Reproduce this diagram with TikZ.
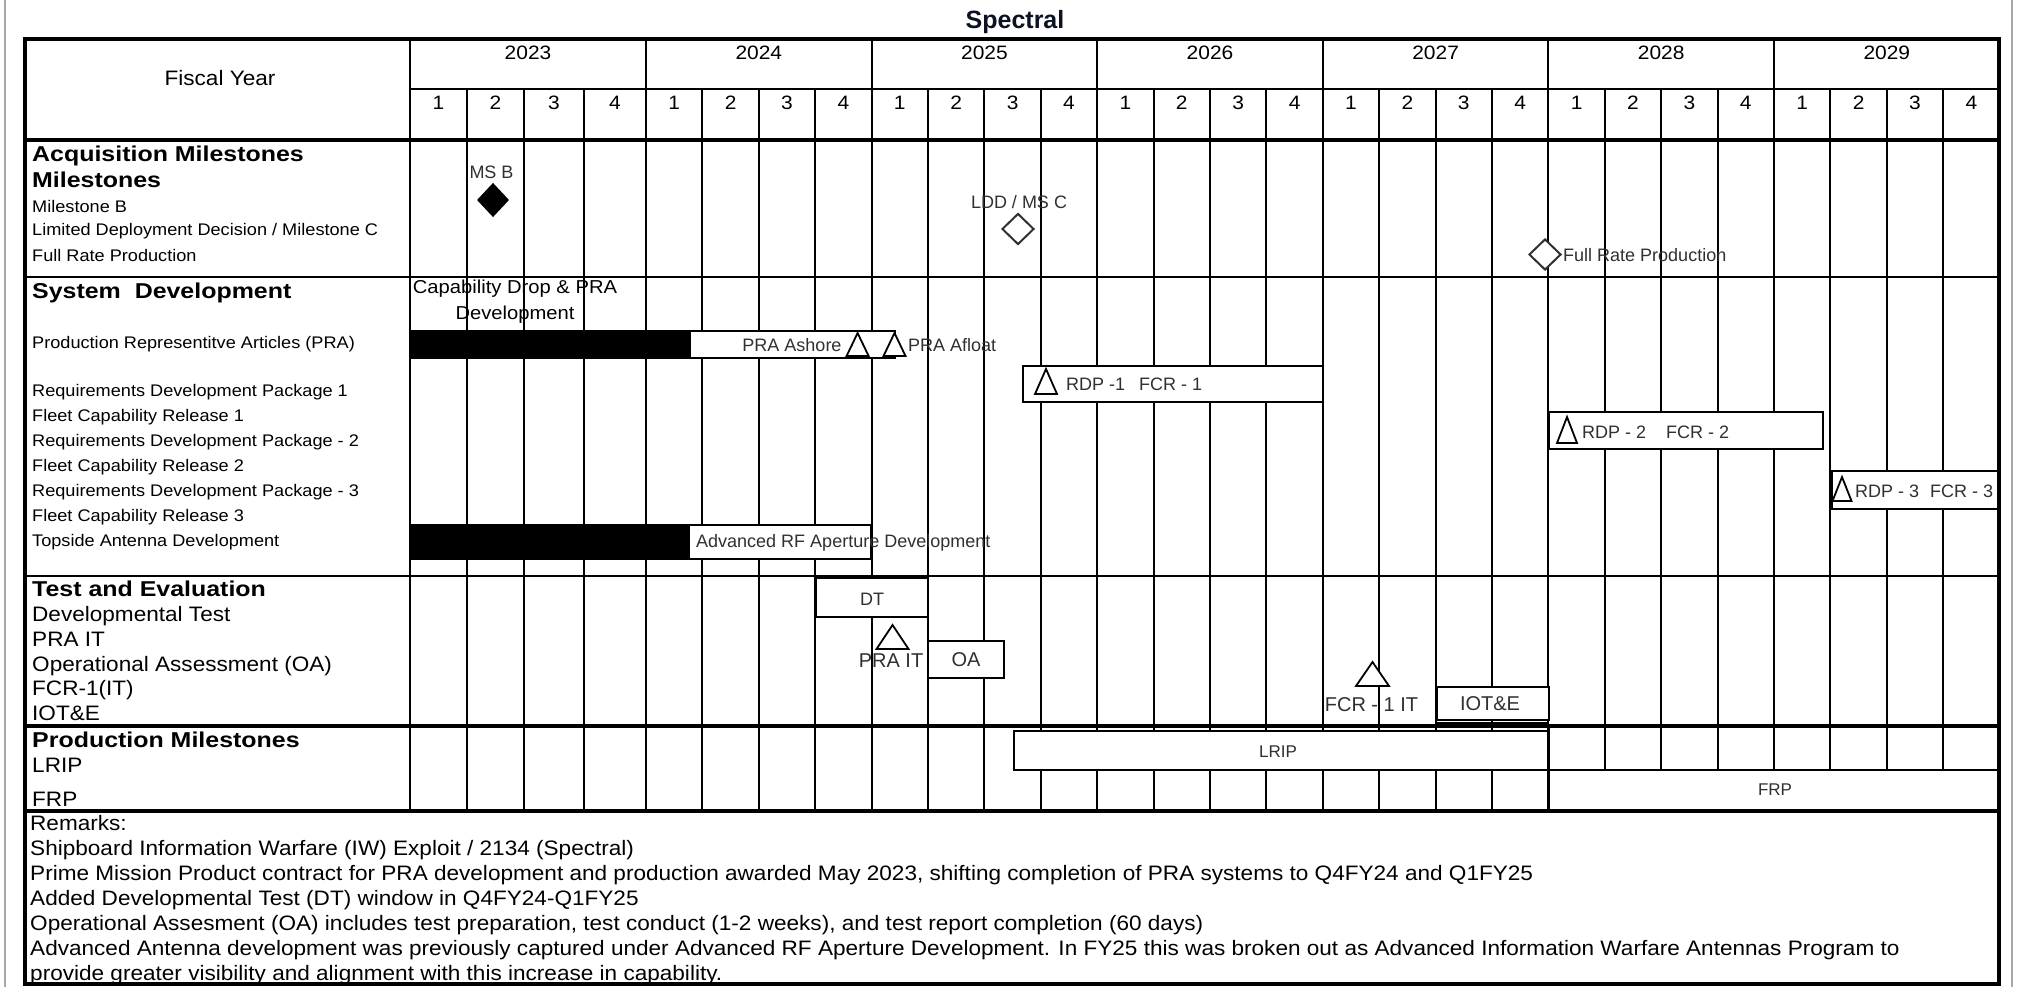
\documentclass[tikz,border=0pt]{standalone}
\usepackage{fontspec}
\setmainfont{Liberation Sans}
\newfontfamily\tabfont{Liberation Sans}[FakeStretch=1.08]
\newfontfamily\tabbold{Liberation Sans}[FakeStretch=1.16]
\newfontfamily\barfont{Liberation Sans}
\usetikzlibrary{shapes.geometric}
\definecolor{cInk}{HTML}{000000}
\definecolor{cTag}{HTML}{303030}
\definecolor{cTitle}{HTML}{0C1222}
\definecolor{cFrame}{HTML}{A8A8A8}
\tikzset{
  gline/.style={line width=2pt,color=cInk},
  bline/.style={line width=3.5pt,color=cInk},
  lbl/.style={anchor=west,inner sep=0pt,font=\tabfont\fontsize{16.8}{16.8}\selectfont,text height=12pt,text depth=0pt},
  big/.style={anchor=west,inner sep=0pt,font=\tabfont\fontsize{20.9}{20.9}\selectfont,text height=15pt,text depth=0pt},
  head/.style={anchor=west,inner sep=0pt,font=\tabbold\bfseries\fontsize{21.5}{21.5}\selectfont,text height=15.4pt,text depth=0pt},
  cell/.style={inner sep=0pt,font=\tabfont\fontsize{19.4}{19.4}\selectfont,text height=13.9pt,text depth=0pt},
  tag/.style={inner sep=0pt,text=cTag,font=\barfont\fontsize{18}{18}\selectfont,text height=12.9pt,text depth=0pt},
  tagL/.style={tag,font=\barfont\fontsize{20}{20}\selectfont,text height=14.3pt},
  tagS/.style={tag,font=\barfont\fontsize{17}{17}\selectfont,text height=12.2pt},
  barbox/.style={draw=cInk,line width=2pt,fill=white,anchor=north west,inner sep=0pt,outer sep=0pt},
  blkbar/.style={fill=cInk,anchor=north west,inner sep=0pt,outer sep=0pt},
  mstone/.style={diamond,draw=cTag,line width=2pt,fill=#1,inner sep=0pt,minimum width=32pt,minimum height=31pt},
  mstone/.default=white,
  trimk/.style={draw=cInk,line width=1.8pt,fill=white},
  pics/tri/.style 2 args={code={\draw[trimk] (-#1,#2) -- (0,0) -- (#1,#2) -- cycle;}},
}
\begin{document}
\begin{tikzpicture}[x=1pt,y=-1pt]
\useasboundingbox[fill=white] (0,0) rectangle (2023,987);
\draw[cFrame,line width=2pt] (5,0) -- (5,987) (2012,0) -- (2012,987);
\node[font=\barfont\bfseries\fontsize{25}{25}\selectfont,text=cTitle,inner sep=0pt,text height=17.9pt,text depth=0pt] (title) at (1015,19.5) {Spectral};

% quarter and year rules
\foreach \x in {467,524,584,702.4,758.8,815.2,928,984.4,1040.8,1153.6,1210,1266.4,1379.2,1435.6,1492,1604.8,1661.2,1717.6,1830.4,1886.8,1943.2}
  \draw[gline] (\x,89) -- (\x,811);
\foreach \x in {410,646,871.6,1097.2,1322.8,1548.4,1774}
  \draw[gline] (\x,39) -- (\x,811);
\draw[gline] (410,89) -- (1999,89);
\foreach \y in {277,576} \draw[gline] (25,\y) -- (1999,\y);

% header
\node[big,anchor=center] (fy) at (220,78) {Fiscal Year};
\node[cell] (y2023) at (528,52.5) {2023};
\foreach \yr [count=\i from 0] in {2024,...,2029}
  \node[cell] (y\yr) at ({758.8+225.6*\i},52.5) {\yr};
\node[cell] (qa1) at (438.5,103) {1};
\node[cell] (qa2) at (495.5,103) {2};
\node[cell] (qa3) at (554,103) {3};
\node[cell] (qa4) at (615,103) {4};
\foreach \j in {0,...,23} {
  \pgfmathtruncatemacro\q{mod(\j,4)+1}
  \node[cell] (q\j) at ({674.2+56.4*\j},103) {\q};
}

% acquisition milestones
\node[head] (acq) at (32,154) {Acquisition Milestones};
\node[head] (acq2) at (32,180) {Milestones};
\node[lbl] (l1) at (32,206) {Milestone B};
\node[lbl] (l2) at (32,230) {Limited Deployment Decision / Milestone C};
\node[lbl] (l3) at (32,255) {Full Rate Production};
\node[mstone=cInk,draw=cInk,minimum width=30pt,minimum height=32pt] (msb) at (493,200) {};
\node[tag] (msbT) at (491.5,172) {MS B};
\node[mstone] (ldd) at (1018,229) {};
\node[tag] (lddT) at (1019,202) {LDD / MS C};
\node[mstone] (frp) at (1545,254.5) {};
\node[tag,anchor=west] (frpT) at (1563,255) {Full Rate Production};

% system development
\node[head] (sys) at (32,291) {System\ \ Development};
\node[lbl] (l4) at (32,342) {Production Representitve Articles (PRA)};
\node[lbl] (l5) at (32,390) {Requirements Development Package 1};
\node[lbl] (l6) at (32,415) {Fleet Capability Release 1};
\node[lbl] (l7) at (32,440) {Requirements Development Package - 2};
\node[lbl] (l8) at (32,465.5) {Fleet Capability Release 2};
\node[lbl] (l9) at (32,490.5) {Requirements Development Package - 3};
\node[lbl] (l10) at (32,515) {Fleet Capability Release 3};
\node[lbl] (l11) at (32,540.5) {Topside Antenna Development};
\node[font=\tabfont\fontsize{18.7}{26}\selectfont,align=center,inner sep=0pt,anchor=north] (capDev) at (515,280) {Capability Drop \& PRA\\Development};

\node[barbox,minimum width=485pt,minimum height=27pt] (praBox) at (410,331) {};
\node[blkbar,minimum width=281pt,minimum height=27pt] (praDev) at (410,331) {};
\node[tag] (ashT) at (792,345) {PRA Ashore};
\pic at (857.6,333) {tri={11}{23}};
\pic at (894.5,333) {tri={11}{23}};
\node[tag,anchor=west] (afT) at (908,345) {PRA Afloat};

\node[barbox,minimum width=300pt,minimum height=36pt] (rdp1) at (1023,366) {};
\pic at (1046,369) {tri={11}{25}};
\node[tag,anchor=west] (rdp1T) at (1066,384) {RDP -1\hspace{14pt}FCR - 1};
\node[barbox,minimum width=274pt,minimum height=37pt] (rdp2) at (1549,412) {};
\pic at (1567,417) {tri={10}{26}};
\node[tag,anchor=west] (rdp2T) at (1582,432) {RDP - 2\hspace{20pt}FCR - 2};
\node[barbox,minimum width=167pt,minimum height=38pt] (rdp3) at (1832,471) {};
\pic at (1842,477) {tri={9.5}{24}};
\node[tag,anchor=west] (rdp3T) at (1855,491) {RDP - 3\hspace{11pt}FCR - 3};

\node[barbox,minimum width=461pt,minimum height=34pt] (topBox) at (410,525) {};
\node[blkbar,minimum width=280pt,minimum height=34pt] (topDev) at (410,525) {};
\node[tag,anchor=west] (topT) at (696,541) {Advanced RF Aperture Development};

% test and evaluation
\node[head] (te) at (32,589) {Test and Evaluation};
\node[big] (l12) at (32,614) {Developmental Test};
\node[big] (l13) at (32,638.5) {PRA IT};
\node[big] (l14) at (32,663.5) {Operational Assessment (OA)};
\node[big] (l15) at (32,688) {FCR-1(IT)};
\node[big] (l16) at (32,713) {IOT\&E};
\node[barbox,minimum width=112pt,minimum height=39pt] (dt) at (816,578) {};
\node[tag] (dtT) at (872,599) {DT};
\pic at (892.5,625) {tri={16}{24}};
\node[tagL] (praitT) at (891,660) {PRA IT};
\node[barbox,minimum width=76pt,minimum height=37pt] (oa) at (928,641) {};
\node[tagL] (oaT) at (966,659.5) {OA};
\pic at (1372.5,662) {tri={16.5}{24}};
\node[tagL] (fcritT) at (1371.5,704.5) {FCR - 1 IT};
\node[barbox,minimum width=112pt,minimum height=33pt] (iote) at (1437,687) {};
\node[tagL] (ioteT) at (1490,703.5) {IOT\&E};
\draw[gline] ([yshift=-3pt]iote.south west) -- ([yshift=-3pt]iote.south east);

% production milestones
\node[head] (pm) at (32,740) {Production Milestones};
\node[big] (l17) at (32,765) {LRIP};
\node[big] (l18) at (32,798.5) {FRP};
\node[barbox,minimum width=534pt,minimum height=39pt] (lrip) at (1014,731) {};
\node[tagS] (lripT) at (1278,751) {LRIP};
\node[barbox,minimum width=450pt,minimum height=40pt] (frpBox) at (1549,770) {};
\node[tagS] (frpT2) at (1775,789.5) {FRP};
\draw[bline] (1548.5,726) -- (1548.5,811);

% heavy rules
\foreach \y in {140,726,811} \draw[bline] (25,\y) -- (1999,\y);
\draw[bline] (25,39) rectangle (1999,984);

% remarks
\node[big] (rm1) at (30,823) {Remarks:};
\node[big] (rm2) at (30,848) {Shipboard Information Warfare (IW) Exploit / 2134 (Spectral)};
\node[big] (rm3) at (30,873) {Prime Mission Product contract for PRA development and production awarded May 2023, shifting completion of PRA systems to Q4FY24 and Q1FY25};
\node[big] (rm4) at (30,898) {Added Developmental Test (DT) window in Q4FY24-Q1FY25};
\node[big] (rm5) at (30,923) {Operational Assesment (OA) includes test preparation, test conduct (1-2 weeks), and test report completion (60 days)};
\node[big] (rm6) at (30,948) {Advanced Antenna development was previously captured under Advanced RF Aperture Development. In FY25 this was broken out as Advanced Information Warfare Antennas Program to};
\node[big] (rm7) at (30,973) {provide greater visibility and alignment with this increase in capability.};
\end{tikzpicture}
\end{document}
